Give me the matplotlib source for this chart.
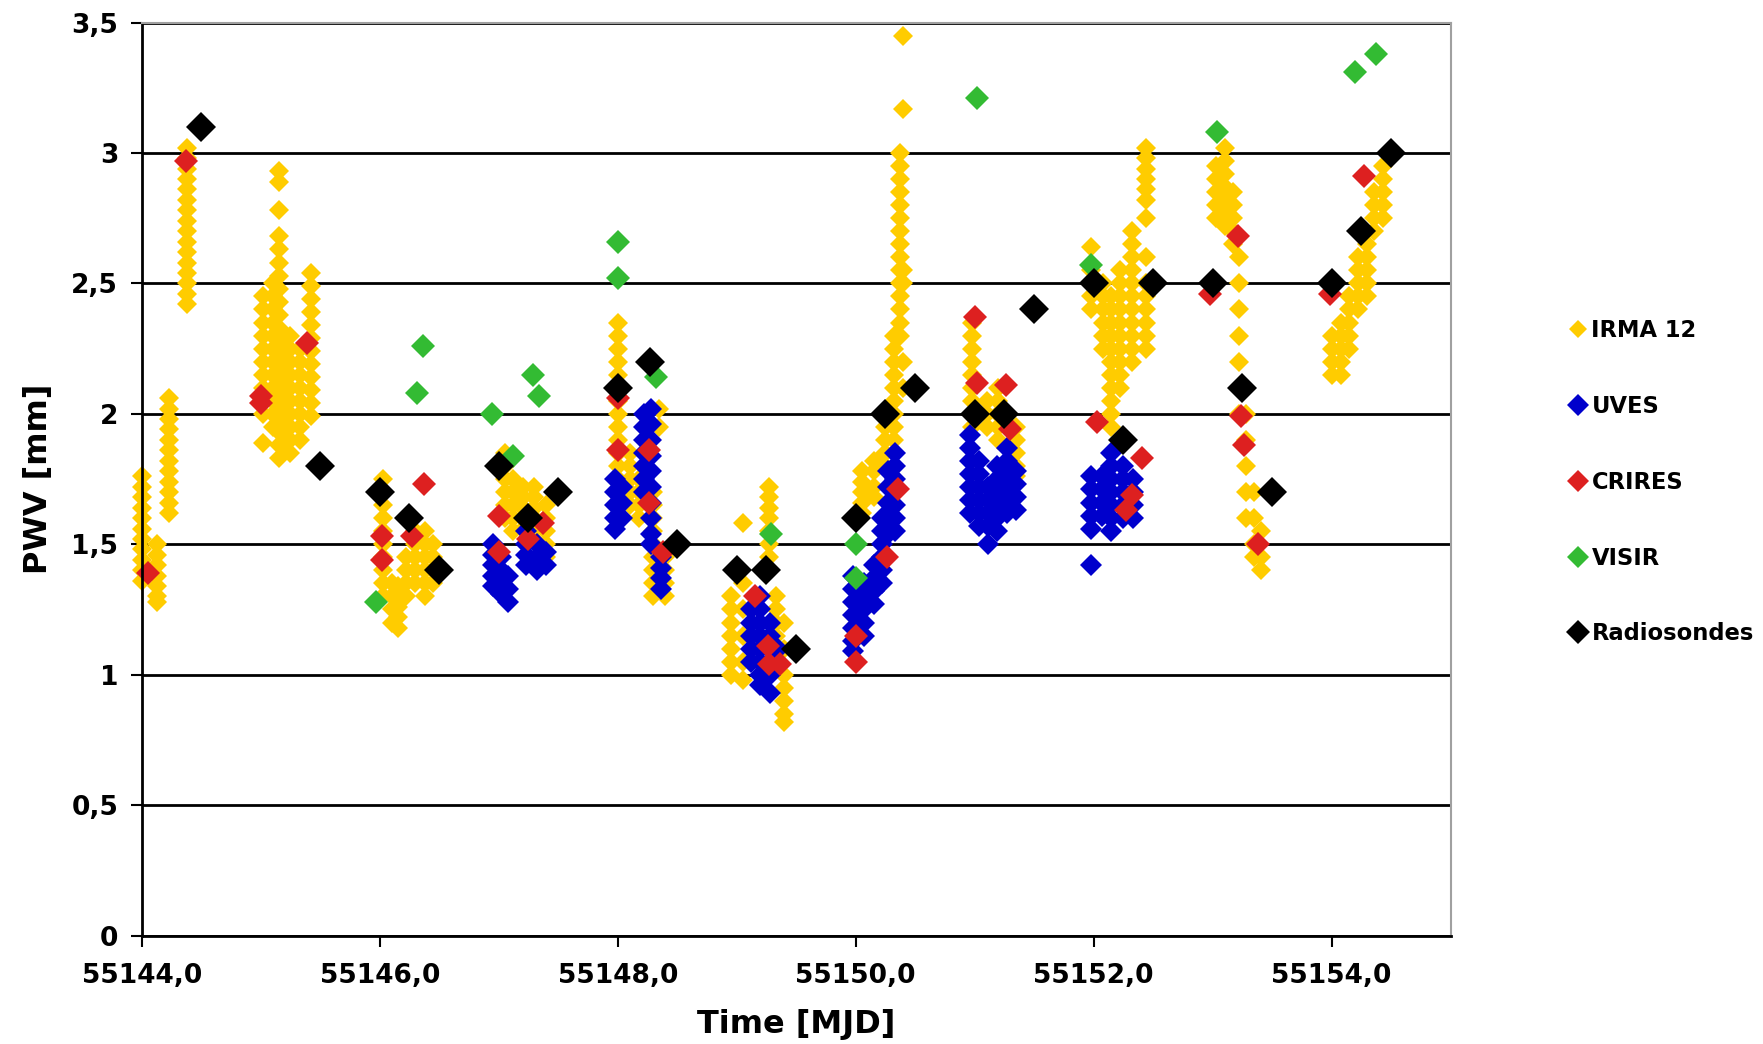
import numpy as np
import matplotlib.pyplot as plt

# IRMA 12: columns of samples (time of column, pwv values in it)
irma_t = [55144.0, 55144.13, 55144.23, 55144.38,
          55145.02, 55145.1, 55145.15, 55145.25, 55145.33, 55145.42,
          55146.03, 55146.1, 55146.15, 55146.22, 55146.3, 55146.38, 55146.45,
          55147.05, 55147.12, 55147.2, 55147.3, 55147.4,
          55148.0, 55148.1, 55148.18, 55148.3, 55148.35, 55148.4,
          55148.95, 55149.05, 55149.27, 55149.33, 55149.4,
          55150.05, 55150.15, 55150.25, 55150.32, 55150.37, 55150.4,
          55150.98, 55151.1, 55151.2, 55151.35,
          55151.98, 55152.08, 55152.15, 55152.22, 55152.32, 55152.44,
          55153.03, 55153.1, 55153.17, 55153.22, 55153.28, 55153.35, 55153.41,
          55154.0, 55154.08, 55154.15, 55154.22, 55154.3, 55154.36, 55154.43]
irma_pwv = [
    [1.76, 1.72, 1.68, 1.64, 1.60, 1.56, 1.52, 1.48, 1.44, 1.40, 1.36],
    [1.50, 1.46, 1.42, 1.38, 1.34, 1.30, 1.28],
    [2.06, 2.02, 1.98, 1.94, 1.90, 1.86, 1.82, 1.78, 1.74, 1.70, 1.66, 1.62],
    [3.02, 2.98, 2.94, 2.90, 2.86, 2.82, 2.78, 2.74, 2.70, 2.66, 2.62, 2.58, 2.54, 2.50, 2.46, 2.42],
    [2.45, 2.40, 2.35, 2.30, 2.25, 2.20, 2.15, 2.10, 2.05, 2.00, 1.89],
    [2.50, 2.45, 2.40, 2.35, 2.30, 2.25, 2.20, 2.15, 2.10, 2.05, 2.00, 1.95],
    [2.93, 2.89, 2.78, 2.68, 2.63, 2.58, 2.53, 2.48, 2.43, 2.38, 2.33, 2.28, 2.23, 2.18, 2.13, 2.08, 2.03, 1.98, 1.93, 1.88, 1.83],
    [2.30, 2.25, 2.20, 2.15, 2.10, 2.05, 2.00, 1.95, 1.90, 1.85],
    [2.25, 2.20, 2.15, 2.10, 2.05, 2.00, 1.95, 1.90],
    [2.54, 2.49, 2.44, 2.39, 2.34, 2.29, 2.24, 2.19, 2.14, 2.09, 2.04, 1.99],
    [1.75, 1.70, 1.65, 1.60, 1.55, 1.50, 1.45, 1.40, 1.35, 1.30],
    [1.35, 1.30, 1.25, 1.20],
    [1.18, 1.22, 1.26, 1.30, 1.34],
    [1.30, 1.35, 1.40, 1.45],
    [1.35, 1.40, 1.45, 1.50, 1.55],
    [1.30, 1.35, 1.40, 1.45, 1.50, 1.55],
    [1.35, 1.40, 1.45, 1.50],
    [1.85, 1.80, 1.75, 1.70, 1.65, 1.60],
    [1.75, 1.70, 1.65, 1.60, 1.55],
    [1.72, 1.68, 1.64, 1.60, 1.56],
    [1.72, 1.68, 1.64, 1.60, 1.56, 1.52],
    [1.65, 1.60, 1.55, 1.50, 1.45],
    [2.35, 2.30, 2.25, 2.20, 2.15, 2.10, 2.05, 2.00, 1.95, 1.90, 1.85, 1.80, 1.75],
    [1.85, 1.80, 1.75, 1.70, 1.65],
    [1.75, 1.70, 1.65, 1.60],
    [1.70, 1.65, 1.60, 1.55, 1.50, 1.45, 1.40, 1.35, 1.30],
    [2.02, 1.95],
    [1.45, 1.40, 1.35, 1.30],
    [1.30, 1.25, 1.20, 1.15, 1.10, 1.05, 1.00],
    [1.58, 1.35, 1.25, 1.15, 1.05, 0.98],
    [1.72, 1.68, 1.64, 1.60, 1.55, 1.50, 1.45],
    [1.30, 1.25, 1.20, 1.15, 1.10, 1.05],
    [1.20, 1.10, 1.00, 0.95, 0.90, 0.85, 0.82],
    [1.78, 1.74, 1.70, 1.66, 1.62],
    [1.82, 1.78, 1.72, 1.68],
    [2.00, 1.95, 1.90, 1.85, 1.80],
    [2.30, 2.25, 2.20, 2.15, 2.10, 2.05, 2.00, 1.95, 1.90],
    [3.00, 2.95, 2.90, 2.85, 2.80, 2.75, 2.70, 2.65, 2.60, 2.55, 2.50, 2.45, 2.40, 2.35, 2.30],
    [3.45, 3.17, 2.55, 2.50, 2.20, 2.10],
    [2.35, 2.30, 2.25, 2.20, 2.15, 2.10, 2.05, 2.00, 1.95],
    [2.05, 2.00, 1.95],
    [2.10, 2.05, 2.00, 1.95, 1.90],
    [1.95, 1.90, 1.85, 1.80, 1.76],
    [2.64, 2.55, 2.50, 2.45, 2.40],
    [2.50, 2.45, 2.40, 2.35, 2.30, 2.25],
    [2.45, 2.40, 2.35, 2.30, 2.25, 2.20, 2.15, 2.10, 2.05, 2.00, 1.95],
    [2.55, 2.50, 2.45, 2.40, 2.35, 2.30, 2.25, 2.20, 2.15, 2.10],
    [2.70, 2.65, 2.60, 2.55, 2.50, 2.45, 2.40, 2.35, 2.30, 2.25, 2.20],
    [3.02, 2.98, 2.94, 2.90, 2.86, 2.82, 2.75, 2.60, 2.50, 2.45, 2.40, 2.35, 2.30, 2.25],
    [2.95, 2.90, 2.85, 2.80, 2.75],
    [3.02, 2.97, 2.92, 2.87, 2.82, 2.77, 2.72],
    [2.85, 2.80, 2.75, 2.70, 2.65],
    [2.60, 2.50, 2.40, 2.30, 2.20, 2.10, 2.00],
    [2.00, 1.90, 1.80, 1.70, 1.60],
    [1.70, 1.60, 1.50, 1.45],
    [1.55, 1.45, 1.40],
    [2.30, 2.25, 2.20, 2.15],
    [2.35, 2.30, 2.25, 2.20, 2.15],
    [2.45, 2.40, 2.35, 2.30, 2.25],
    [2.60, 2.55, 2.50, 2.45, 2.40],
    [2.65, 2.60, 2.55, 2.50, 2.45],
    [2.85, 2.80, 2.75, 2.70],
    [2.95, 2.90, 2.85, 2.80, 2.75],
]

# UVES columns
uves_t = [55146.95, 55147.02, 55147.08, 55147.23, 55147.32, 55147.4,
          55147.98, 55148.04, 55148.22, 55148.28, 55148.36,
          55149.12, 55149.2, 55149.28, 55149.35,
          55149.98, 55150.07, 55150.15, 55150.22, 55150.27, 55150.33,
          55150.96, 55151.04, 55151.11, 55151.19, 55151.27, 55151.35,
          55151.98, 55152.07, 55152.15, 55152.25, 55152.33]
uves_pwv = [
    [1.50, 1.46, 1.42, 1.38, 1.34],
    [1.45, 1.40, 1.35, 1.31],
    [1.38, 1.33, 1.28],
    [1.55, 1.50, 1.46, 1.42],
    [1.50, 1.45, 1.40],
    [1.47, 1.42],
    [1.75, 1.70, 1.65, 1.60, 1.56],
    [1.72, 1.66, 1.60],
    [2.00, 1.95, 1.90, 1.85, 1.80, 1.75, 1.70],
    [2.02, 1.96, 1.90, 1.84, 1.78, 1.72, 1.66, 1.60, 1.54, 1.50],
    [1.45, 1.41, 1.37, 1.33],
    [1.25, 1.20, 1.15, 1.10, 1.05],
    [1.30, 1.25, 1.20, 1.15, 1.10, 1.05, 1.00, 0.96],
    [1.20, 1.15, 1.10, 1.05, 1.00, 0.93],
    [1.10, 1.05],
    [1.38, 1.33, 1.28, 1.23, 1.18, 1.13, 1.09],
    [1.35, 1.30, 1.25, 1.20, 1.15],
    [1.42, 1.37, 1.32, 1.27],
    [1.60, 1.55, 1.50, 1.45, 1.40, 1.35],
    [1.78, 1.72, 1.66, 1.60, 1.54],
    [1.85, 1.80, 1.75, 1.70, 1.65, 1.60, 1.55],
    [1.92, 1.87, 1.82, 1.77, 1.72, 1.67, 1.62],
    [1.82, 1.77, 1.72, 1.67, 1.62, 1.57],
    [1.72, 1.67, 1.62, 1.57, 1.50],
    [1.80, 1.75, 1.70, 1.65, 1.60, 1.55],
    [1.87, 1.82, 1.77, 1.72, 1.67, 1.62],
    [1.78, 1.73, 1.68, 1.63],
    [1.76, 1.71, 1.66, 1.61, 1.56, 1.42],
    [1.76, 1.71, 1.66, 1.61],
    [1.85, 1.80, 1.75, 1.70, 1.65, 1.60, 1.55],
    [1.80, 1.75, 1.70, 1.65, 1.60],
    [1.75, 1.70, 1.65, 1.60],
]

crires_t = [55144.05, 55144.37, 55145.0, 55145.0, 55145.39,
            55146.02, 55146.02, 55146.27, 55146.37,
            55147.0, 55147.0, 55147.25, 55147.37,
            55148.0, 55148.0, 55148.26, 55148.26, 55148.38,
            55149.15, 55149.26, 55149.27, 55149.36,
            55150.0, 55150.0, 55150.26, 55150.36,
            55151.0, 55151.02, 55151.26, 55151.3,
            55152.03, 55152.41, 55152.27, 55152.32,
            55152.98, 55153.21, 55153.24, 55153.26, 55153.38,
            55153.99, 55154.27]
crires_pwv = [1.39, 2.97, 2.07, 2.04, 2.27,
              1.53, 1.44, 1.53, 1.73,
              1.61, 1.47, 1.52, 1.58,
              2.06, 1.86, 1.86, 1.66, 1.47,
              1.30, 1.11, 1.04, 1.04,
              1.15, 1.05, 1.45, 1.71,
              2.37, 2.12, 2.11, 1.94,
              1.97, 1.83, 1.63, 1.69,
              2.46, 2.68, 1.99, 1.88, 1.50,
              2.46, 2.91]

visir_t = [55145.97, 55146.31, 55146.36, 55146.94, 55147.12, 55147.29, 55147.34,
           55148.0, 55148.0, 55148.32, 55149.29, 55150.0, 55150.0,
           55151.02, 55151.98, 55153.04, 55154.2, 55154.37]
visir_pwv = [1.28, 2.08, 2.26, 2.00, 1.84, 2.15, 2.07,
             2.66, 2.52, 2.14, 1.54, 1.50, 1.37,
             3.21, 2.57, 3.08, 3.31, 3.38]

radio_t = [55144.5, 55145.5, 55146.0, 55146.25, 55146.5, 55147.0, 55147.25, 55147.5,
           55148.0, 55148.27, 55148.5, 55149.0, 55149.25, 55149.5, 55150.0, 55150.25,
           55150.5, 55151.0, 55151.25, 55151.5, 55152.0, 55152.25, 55152.5, 55153.0,
           55153.25, 55153.5, 55154.0, 55154.25, 55154.5]
radio_pwv = [3.10, 1.80, 1.70, 1.60, 1.40, 1.80, 1.60, 1.70,
             2.10, 2.20, 1.50, 1.40, 1.40, 1.10, 1.60, 2.00,
             2.10, 2.00, 2.00, 2.40, 2.50, 1.90, 2.50, 2.50,
             2.10, 1.70, 2.50, 2.70, 3.00]

x_ticks = [55144, 55146, 55148, 55150, 55152, 55154]
x_labels = ['55144,0', '55146,0', '55148,0', '55150,0', '55152,0', '55154,0']
y_ticks = [0, 0.5, 1, 1.5, 2, 2.5, 3, 3.5]
y_labels = ['0', '0,5', '1', '1,5', '2', '2,5', '3', '3,5']


def flatten(times, cols):
    t = np.concatenate([np.full(len(c), ti) for ti, c in zip(times, cols)])
    v = np.concatenate([np.array(c) for c in cols])
    return t, v


it, iv = flatten(irma_t, irma_pwv)
ut, uv = flatten(uves_t, uves_pwv)

plt.rcParams['font.family'] = 'DejaVu Sans'
plt.rcParams['font.weight'] = 'bold'

fig = plt.figure(figsize=(17.63, 10.44), dpi=100)
ax = fig.add_axes([0.0804, 0.1039, 0.7424, 0.8745])

ax.set_axisbelow(True)
ax.yaxis.grid(True, color='black', lw=2)

kw = dict(ls='none', marker='D', mew=0, clip_on=False)
ax.plot(it, iv, color='#ffcc00', ms=10, label='IRMA 12', **kw)
ax.plot(ut, uv, color='#0000cc', ms=11, label='UVES', **kw)
ax.plot(crires_t, crires_pwv, color='#dd2020', ms=12, label='CRIRES', **kw)
ax.plot(visir_t, visir_pwv, color='#33bb33', ms=12, label='VISIR', **kw)
ax.plot(radio_t, radio_pwv, color='black', ms=15, label='Radiosondes', **kw)

ax.set_xlim(55144, 55155)
ax.set_ylim(0, 3.5)
ax.set_xticks(x_ticks)
ax.set_xticklabels(x_labels)
ax.set_yticks(y_ticks)
ax.set_yticklabels(y_labels)
ax.tick_params(direction='out', length=8, width=1.5, labelsize=19)
ax.tick_params(axis='x', pad=12)
ax.tick_params(axis='y', pad=9)

for s in ['top', 'right']:
    ax.spines[s].set_color('#a0a0a0')
    ax.spines[s].set_linewidth(1.5)
for s in ['left', 'bottom']:
    ax.spines[s].set_color('black')
    ax.spines[s].set_linewidth(2)

ax.set_xlabel('Time [MJD]', fontsize=23, fontweight='bold', labelpad=14)
ax.set_ylabel('PWV [mm]', fontsize=23, fontweight='bold', labelpad=12)

leg = fig.legend(loc='center left', bbox_to_anchor=(0.877, 0.538), frameon=False,
                 fontsize=16.3, handletextpad=0.1, labelspacing=2.33, handlelength=1.0)
for h, ms in zip(leg.legend_handles, [9.5, 11.5, 11.5, 11.5, 12]):
    h.set_markersize(ms)

fig.savefig('out.png', dpi=100)
